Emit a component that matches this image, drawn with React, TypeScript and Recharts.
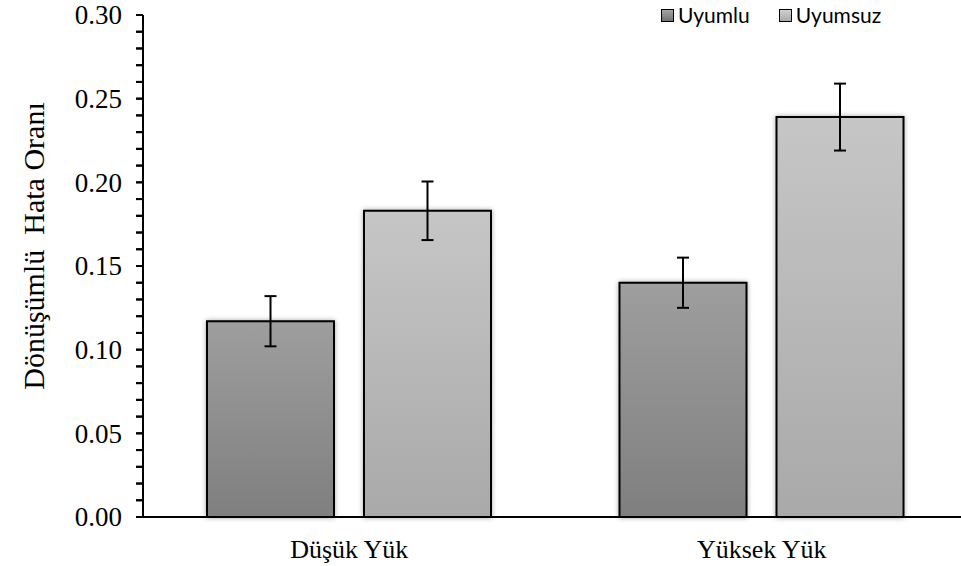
import React from "react";
import {
  BarChart, Bar, XAxis, YAxis, ErrorBar, Label,
} from "recharts";

const categories = ["Düşük Yük", "Yüksek Yük"];
const uyumlu = [0.117, 0.14];
const uyumluErr = [0.015, 0.015];
const uyumsuz = [0.183, 0.239];
const uyumsuzErr = [0.0175, 0.02];

const yTicks = [
  0, 0.01, 0.02, 0.03, 0.04, 0.05, 0.06, 0.07, 0.08, 0.09,
  0.1, 0.11, 0.12, 0.13, 0.14, 0.15, 0.16, 0.17, 0.18, 0.19,
  0.2, 0.21, 0.22, 0.23, 0.24, 0.25, 0.26, 0.27, 0.28, 0.29, 0.3,
];
const yLabels = [0, 0.05, 0.1, 0.15, 0.2, 0.25, 0.3];

const data = categories.map((name, i) => ({
  name,
  uyumlu: uyumlu[i],
  uyumluErr: uyumluErr[i],
  uyumsuz: uyumsuz[i],
  uyumsuzErr: uyumsuzErr[i],
}));

const SERIF = "'Liberation Serif', 'Times New Roman', serif";
const SANS = "Lato, 'Open Sans', sans-serif";

const series = [
  { key: "uyumlu", name: "Uyumlu", grad: "gradDark" },
  { key: "uyumsuz", name: "Uyumsuz", grad: "gradLight" },
];

const AXIS_X = 143;
const TICK_SIZE = 7;

// every 0.01 gets a tick mark, only every 0.05 gets a number
function YTick(props: any) {
  const { y, payload } = props;
  const v = payload.value;
  const major = yLabels.some((m) => Math.abs(m - v) < 1e-6);
  return (
    <g>
      <rect x={AXIS_X - TICK_SIZE} y={y - 1} width={TICK_SIZE} height={2} fill="#000" />
      {major && (
        <text x={AXIS_X - 21} y={y} dy="0.34em" textAnchor="end" fontFamily={SERIF} fontSize={27} fill="#000">
          {v.toFixed(2)}
        </text>
      )}
    </g>
  );
}

function XTick(props: any) {
  const { x, y, payload } = props;
  return (
    <text x={x} y={y + 41} textAnchor="middle" fontFamily={SERIF} fontSize={26} fill="#000">
      {payload.value}
    </text>
  );
}

function LegendBox() {
  return (
    <div
      style={{
        position: "absolute", left: 661, top: 3,
        display: "flex", alignItems: "center",
        fontFamily: SANS, fontSize: 21, color: "#000", lineHeight: "24px",
      }}
    >
      {series.map((s, i) => (
        <div key={s.key} style={{ display: "flex", alignItems: "center", marginLeft: i ? 29 : 0 }}>
          <svg width={13} height={13} style={{ marginRight: 4 }}>
            <defs>
              <linearGradient id={`${s.grad}L`} x1="0" y1="0" x2="0" y2="1">
                <stop offset="0%" stopColor={i ? "#d2d2d2" : "#a8a8a8"} />
                <stop offset="100%" stopColor={i ? "#a8a8a8" : "#6e6e6e"} />
              </linearGradient>
            </defs>
            <rect x={0.5} y={0.5} width={12} height={12} fill={`url(#${s.grad}L)`} stroke="#000" strokeWidth={1} />
          </svg>
          <span>{s.name}</span>
        </div>
      ))}
    </div>
  );
}

export default function App() {
  return (
    <div style={{ position: "absolute", left: 0, top: 0, width: 961, height: 566, overflow: "hidden", background: "#fff" }}>
      <BarChart
        width={968}
        height={566}
        data={data}
        margin={{ top: 15, right: 0, bottom: 0, left: 0 }}
        barSize={127}
        barGap={30}
      >
        <defs>
          <linearGradient id="gradDark" x1="0" y1="0" x2="0" y2="1">
            <stop offset="0%" stopColor="#9e9e9e" />
            <stop offset="100%" stopColor="#7f7f7f" />
          </linearGradient>
          <linearGradient id="gradLight" x1="0" y1="0" x2="0" y2="1">
            <stop offset="0%" stopColor="#c6c6c6" />
            <stop offset="100%" stopColor="#a9a9a9" />
          </linearGradient>
          <filter id="barShadow" x="-10%" y="-10%" width="120%" height="120%">
            <feDropShadow dx="0" dy="0" stdDeviation="2.5" floodColor="#000" floodOpacity="0.35" />
          </filter>
        </defs>
        <XAxis
          dataKey="name"
          height={49}
          tickLine={false}
          tickSize={0}
          tickMargin={0}
          axisLine={{ stroke: "#000", strokeWidth: 2 }}
          tick={<XTick />}
        />
        <YAxis
          width={AXIS_X}
          domain={[0, 0.3]}
          ticks={yTicks}
          interval={0}
          minTickGap={0}
          tickSize={TICK_SIZE}
          tickLine={{ stroke: "#000", strokeWidth: 2 }}
          axisLine={{ stroke: "#000", strokeWidth: 2 }}
          tick={<YTick />}
        >
          <Label
            content={() => (
              <text
                x={33}
                y={246}
                transform="rotate(-90 33 246)"
                textAnchor="middle"
                dominantBaseline="central"
                fontFamily={SERIF}
                fontSize={30}
                fill="#000"
                style={{ whiteSpace: "pre" }}
              >
                {"Dönüşümlü  Hata Oranı"}
              </text>
            )}
          />
        </YAxis>
        {series.map((s) => (
          <Bar
            key={s.key}
            dataKey={s.key}
            name={s.name}
            fill={`url(#${s.grad})`}
            stroke="#000"
            strokeWidth={2}
            filter="url(#barShadow)"
            isAnimationActive={false}
          >
            <ErrorBar dataKey={`${s.key}Err`} width={6} stroke="#000" strokeWidth={2} direction="y" />
          </Bar>
        ))}
      </BarChart>
      <LegendBox />
    </div>
  );
}
